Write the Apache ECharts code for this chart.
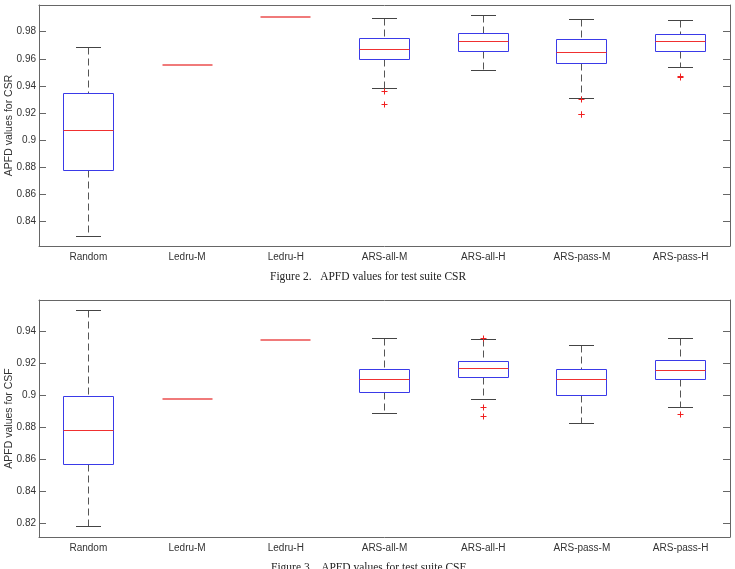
<!DOCTYPE html>
<html>
<head>
<meta charset="utf-8">
<script src="https://cdn.jsdelivr.net/npm/echarts@6/dist/echarts.min.js"></script>
<style>
  html, body { margin: 0; padding: 0; background: #fff; }
  #chart-container { width: 735px; height: 569px; }
</style>
</head>
<body>
<div id="chart-container"></div>
<script>
var dom = document.getElementById("chart-container");
var myChart = echarts.init(dom, null, { renderer: "canvas" });

var categories = ["Random", "Ledru-M", "Ledru-H", "ARS-all-M", "ARS-all-H", "ARS-pass-M", "ARS-pass-H"];

// [lower whisker, Q1, median, Q3, upper whisker]
var csrStats = [
  [0.8289, 0.8773, 0.9072, 0.9342, 0.9685],
  [0.9556, 0.9556, 0.9556, 0.9556, 0.9556],
  [0.9911, 0.9911, 0.9911, 0.9911, 0.9911],
  [0.9379, 0.9596, 0.9670, 0.9748, 0.9894],
  [0.9517, 0.9655, 0.9731, 0.9790, 0.9918],
  [0.9308, 0.9567, 0.9648, 0.9744, 0.9889],
  [0.9534, 0.9657, 0.9731, 0.9781, 0.9881]
];
// [category index, value]
var csrOutliers = [
  [3, 0.9362], [3, 0.9266],
  [5, 0.9298], [5, 0.9187], [5, 0.9190],
  [6, 0.9462], [6, 0.9470]
];

var csfStats = [
  [0.8175, 0.8567, 0.8776, 0.8993, 0.9529],
  [0.8974, 0.8974, 0.8974, 0.8974, 0.8974],
  [0.9346, 0.9346, 0.9346, 0.9346, 0.9346],
  [0.8887, 0.9018, 0.9101, 0.9162, 0.9358],
  [0.8976, 0.9110, 0.9166, 0.9208, 0.9346],
  [0.8820, 0.8999, 0.9100, 0.9160, 0.9310],
  [0.8922, 0.9097, 0.9153, 0.9218, 0.9354]
];
var csfOutliers = [
  [4, 0.9356], [4, 0.8922], [4, 0.8866],
  [6, 0.8878]
];

var csrTicks = [0.84, 0.86, 0.88, 0.9, 0.92, 0.94, 0.96, 0.98];
var csfTicks = [0.82, 0.84, 0.86, 0.88, 0.9, 0.92, 0.94];

var axisColor = "#666";
var labelFont = { fontFamily: "Liberation Sans", fontSize: 10, color: "#333" };

function crisp(v) {
  return Math.round(v - 0.5) + 0.5;
}

function renderBox(params, api) {
  var idx = api.value(0);
  var lo = api.coord([idx, api.value(1)]);
  var q1 = api.coord([idx, api.value(2)]);
  var med = api.coord([idx, api.value(3)]);
  var q3 = api.coord([idx, api.value(4)]);
  var hi = api.coord([idx, api.value(5)]);
  var band = api.size([1, 0])[0];
  var bw = Math.round(band * 0.507);
  var cw = Math.round(bw * 0.49);
  var cx = crisp(lo[0]);
  var x0 = crisp(cx - bw / 2);
  var yLo = crisp(lo[1]), yQ1 = crisp(q1[1]), yQ3 = crisp(q3[1]), yHi = crisp(hi[1]);
  // all values equal: only a (slightly heavier) median line shows
  if (yLo === yHi) {
    return {
      type: "rect", z2: 10,
      shape: { x: x0, y: Math.round(med[1] - 1), width: bw, height: 2 },
      style: { fill: "#f07a7a", stroke: null }
    };
  }
  var medLine = { type: "rect", z2: 10,
    shape: { x: x0, y: Math.round(med[1] - 0.5), width: bw, height: 1 },
    style: { fill: "#f03030", stroke: null } };
  var whisk = { stroke: "#555", lineWidth: 1, lineDash: [7, 4] };
  var cap = { stroke: "#444", lineWidth: 1 };
  return {
    type: "group",
    children: [
      { type: "line", shape: { x1: cx, y1: yHi, x2: cx, y2: yQ3 }, style: whisk },
      { type: "line", shape: { x1: cx, y1: yQ1, x2: cx, y2: yLo }, style: whisk },
      { type: "line", shape: { x1: cx - cw / 2, y1: yHi, x2: cx + cw / 2, y2: yHi }, style: cap },
      { type: "line", shape: { x1: cx - cw / 2, y1: yLo, x2: cx + cw / 2, y2: yLo }, style: cap },
      { type: "rect", shape: { x: x0, y: yQ3, width: bw, height: yQ1 - yQ3 },
        style: { fill: null, stroke: "#3a3ae8", lineWidth: 1 } },
      medLine
    ]
  };
}

function renderPlus(params, api) {
  var p = api.coord([api.value(0), api.value(1)]);
  var x = crisp(p[0]), y = crisp(p[1]);
  var s = 3;
  var st = { stroke: "#f02020", lineWidth: 1 };
  return {
    type: "group",
    children: [
      { type: "line", shape: { x1: x - s, y1: y, x2: x + s, y2: y }, style: st },
      { type: "line", shape: { x1: x, y1: y - s, x2: x, y2: y + s }, style: st }
    ]
  };
}

function boxData(stats) {
  return stats.map(function (s, i) { return [i].concat(s); });
}

function xAxes(gridIndex) {
  return [
    {
      type: "category", gridIndex: gridIndex, data: categories, position: "bottom",
      axisLine: { lineStyle: { color: axisColor, width: 1 } },
      axisTick: { inside: true, alignWithLabel: true, length: 7, lineStyle: { color: axisColor } },
      axisLabel: Object.assign({ margin: 6, interval: 0 }, labelFont),
      splitLine: { show: false }
    },
    {
      type: "category", gridIndex: gridIndex, data: categories, position: "top",
      axisLine: { lineStyle: { color: axisColor, width: 1 } },
      axisTick: { inside: true, alignWithLabel: true, length: 7, lineStyle: { color: axisColor } },
      axisLabel: { show: false },
      splitLine: { show: false }
    }
  ];
}

function yAxes(gridIndex, min, max, ticks, name) {
  return [
    {
      type: "value", gridIndex: gridIndex, min: min, max: max, position: "left",
      name: name, nameLocation: "middle", nameGap: 24, nameMoveOverlap: false,
      nameTextStyle: { fontFamily: "Liberation Sans", fontSize: 10.5, color: "#333" },
      axisLine: { show: true, lineStyle: { color: axisColor, width: 1 } },
      axisTick: { show: true, inside: true, length: 7, customValues: ticks, lineStyle: { color: axisColor } },
      axisLabel: Object.assign({ margin: 3, customValues: ticks }, labelFont),
      splitLine: { show: false }
    },
    {
      type: "value", gridIndex: gridIndex, min: min, max: max, position: "right",
      axisLine: { show: true, lineStyle: { color: axisColor, width: 1 } },
      axisTick: { show: true, inside: true, length: 7, customValues: ticks, lineStyle: { color: axisColor } },
      axisLabel: { show: false },
      splitLine: { show: false }
    }
  ];
}

var option = {
  animation: false,
  backgroundColor: "#fff",
  title: [
    {
      text: "Figure 2.   APFD values for test suite CSR", left: 265, top: 266,
      textStyle: { fontFamily: "Liberation Serif", fontSize: 11.5, fontWeight: "normal", color: "#222" }
    },
    {
      text: "Figure 3.   APFD values for test suite CSF", left: 266, top: 557,
      textStyle: { fontFamily: "Liberation Serif", fontSize: 11.5, fontWeight: "normal", color: "#222" }
    }
  ],
  grid: [
    { left: 39, top: 5, width: 691, height: 241, containLabel: false, outerBoundsMode: "none" },
    { left: 39, top: 300, width: 691, height: 237, containLabel: false, outerBoundsMode: "none" }
  ],
  xAxis: xAxes(0).concat(xAxes(1)),
  yAxis: yAxes(0, 0.8218, 0.9997, csrTicks, "APFD values for CSR")
    .concat(yAxes(1, 0.8112, 0.9596, csfTicks, "APFD values for CSF")),
  series: [
    {
      type: "custom", xAxisIndex: 0, yAxisIndex: 0, renderItem: renderBox,
      encode: { x: 0, y: [1, 2, 3, 4, 5] }, data: boxData(csrStats)
    },
    {
      type: "custom", xAxisIndex: 0, yAxisIndex: 0, renderItem: renderPlus,
      encode: { x: 0, y: 1 }, data: csrOutliers
    },
    {
      type: "custom", xAxisIndex: 2, yAxisIndex: 2, renderItem: renderBox,
      encode: { x: 0, y: [1, 2, 3, 4, 5] }, data: boxData(csfStats)
    },
    {
      type: "custom", xAxisIndex: 2, yAxisIndex: 2, renderItem: renderPlus,
      encode: { x: 0, y: 1 }, data: csfOutliers
    }
  ]
};

myChart.setOption(option);

window.addEventListener("resize", function () {
  myChart.resize();
});
</script>
</body>
</html>
